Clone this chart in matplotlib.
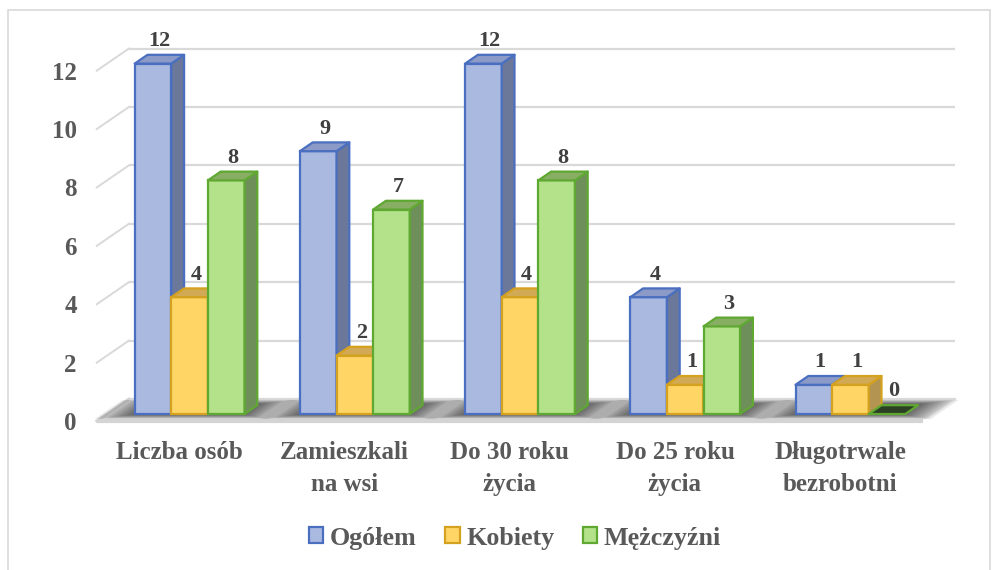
import matplotlib
matplotlib.use("Agg")
import matplotlib.pyplot as plt
from matplotlib.patches import Polygon, Rectangle, Patch

# ---------------- data ----------------
categories = ["Liczba osób", "Zamieszkali\nna wsi", "Do 30 roku\nżycia", "Do 25 roku\nżycia", "Długotrwale\nbezrobotni"]
series_names = ["Ogółem", "Kobiety", "Mężczyźni"]
ogolem = [12, 9, 12, 4, 1]
kobiety = [4, 2, 4, 1, 1]
mezczyzni = [8, 7, 8, 3, 0]
y_ticks = [0, 2, 4, 6, 8, 10, 12]

series_values = [ogolem, kobiety, mezczyzni]

# ---------------- styles ----------------
front_cols = ["#a9b9e0", "#ffd666", "#b3e28b"]
top_cols = ["#8b9ac6", "#d2aa55", "#87ae62"]
side_cols = ["#6b7899", "#b39450", "#6f8f5a"]
edge_cols = ["#4a6fc0", "#d5a21f", "#5fa832"]
zero_top_cols = ["#2a3550", "#4a3a18", "#2d3f24"]

W_PX, H_PX = 998, 570
PX_CAT = 165.2      # pixels per category
PX_VAL = 29.2       # pixels per value unit
X0_PX = 107.0       # pixel x of category -0.5 (bar plane)
Y0_PX = 414.0       # pixel y of value 0 (bar plane)

DX = 32.0 / PX_CAT  # full depth offset (x, data units)
DY = 22.0 / PX_VAL  # full depth offset (y, data units)
F_FRONT = -0.32
F_BACK = 0.68
F_BAR = 0.40

def px_to_x(px):
    return -0.5 + (px - X0_PX) / PX_CAT

def py_to_y(py):
    return (Y0_PX - py) / PX_VAL

fig = plt.figure(figsize=(W_PX / 100, H_PX / 100), dpi=100)
ax = fig.add_axes([0, 0, 1, 1])
ax.set_xlim(px_to_x(0), px_to_x(W_PX))
ax.set_ylim(py_to_y(H_PX), py_to_y(0))
ax.axis("off")

# outer border
fig.patches.append(Rectangle((8 / W_PX, -0.01), (990 - 8) / W_PX, 1 - 10 / H_PX + 0.01,
                             transform=fig.transFigure, fill=False,
                             edgecolor="#d9d9d9", linewidth=1.2, zorder=0))

n = len(categories)
fx, fy = F_FRONT * DX, F_FRONT * DY
bx, by = F_BACK * DX, F_BACK * DY
grid_col = "#d9d9d9"
serif = "Liberation Serif"

# back wall gridlines + side diagonals
for v in y_ticks:
    if v > 0:
        ax.plot([-0.5 + bx, n - 0.5 + bx], [v + by, v + by], color=grid_col, lw=1.6, zorder=1,
                solid_capstyle="butt")
    ax.plot([-0.5 + fx, -0.5 + bx], [v + fy, v + by], color=grid_col, lw=1.4, zorder=1)

# floor
floor = Polygon([(-0.5 + fx, fy), (n - 0.5 + fx, fy), (n - 0.5 + bx, by), (-0.5 + bx, by)],
                closed=True, facecolor="#f3f3f3", edgecolor="none", zorder=1)
ax.add_patch(floor)
ax.plot([-0.5 + bx, n - 0.5 + bx], [by, by], color=grid_col, lw=1.6, zorder=1.1)
ax.plot([-0.5 + fx, n - 0.5 + fx], [fy, fy], color="#d4d4d4", lw=3.0, zorder=1.1,
        solid_capstyle="butt")
ax.plot([-0.5 + fx, -0.5 + bx], [fy, by], color="#d4d4d4", lw=2.0, zorder=1.1)

w = (36.6 / PX_CAT)
# shadows on floor
for i in range(n):
    gl = i - 1.5 * w
    gr = i + 1.5 * w
    for k in range(10):
        e = 0.02 + k * 0.02
        d0 = -0.05 - k * 0.02
        d1 = F_BAR + 0.08 + k * 0.02
        d0 = max(d0, F_FRONT + 0.04)
        d1 = min(d1, F_BACK - 0.04)
        pts = [(gl - e + d0 * DX, d0 * DY), (gr + e + d0 * DX, d0 * DY),
               (gr + e + d1 * DX, d1 * DY), (gl - e + d1 * DX, d1 * DY)]
        ax.add_patch(Polygon(pts, closed=True, facecolor="black", edgecolor="none",
                             alpha=0.075, zorder=1.5))

# bars
bdx, bdy = F_BAR * DX, F_BAR * DY
for i in range(n):
    for j, vals in enumerate(series_values):
        v = vals[i]
        xc = i + (j - 1) * w
        left, right = xc - w / 2, xc + w / 2
        z = 2 + i * 0.1 + j * 0.02
        if v > 0:
            ax.bar(xc, v, width=w, bottom=0, color=front_cols[j], edgecolor=edge_cols[j],
                   linewidth=1.6, zorder=z)
            side = Polygon([(right, 0), (right + bdx, bdy), (right + bdx, v + bdy), (right, v)],
                           closed=True, facecolor=side_cols[j], edgecolor=edge_cols[j],
                           linewidth=1.6, joinstyle="round", zorder=z)
            ax.add_patch(side)
            topc = top_cols[j]
        else:
            topc = zero_top_cols[j]
        top = Polygon([(left, v), (right, v), (right + bdx, v + bdy), (left + bdx, v + bdy)],
                      closed=True, facecolor=topc, edgecolor=edge_cols[j], linewidth=1.6,
                      joinstyle="round", zorder=z + 0.005)
        ax.add_patch(top)
        ax.text(xc + bdx / 2, v + bdy + 0.3, f"{v}", ha="center", va="baseline",
                fontsize=16, fontweight="bold", family=serif, color="#404040",
                zorder=5)

# y tick labels
for v in y_ticks:
    ax.text(px_to_x(77), v + fy - 2.5 / PX_VAL, f"{v}", ha="right", va="center", fontsize=18,
            fontweight="bold", family=serif, color="#595959")

# category labels
for i, c in enumerate(categories):
    ax.text(i + fx, py_to_y(441), c, ha="center", va="top", fontsize=18, fontweight="bold",
            family=serif, color="#595959", linespacing=1.5)

# legend
handles = [Patch(facecolor=front_cols[j], edgecolor=edge_cols[j], linewidth=1.6,
                 label=series_names[j]) for j in range(3)]
leg = fig.legend(handles=handles, loc="center", bbox_to_anchor=(515 / W_PX, 1 - 538 / H_PX),
                 ncol=3, frameon=False, handlelength=0.55, handleheight=0.55,
                 handletextpad=0.25, columnspacing=1.1,
                 prop={"family": serif, "weight": "bold", "size": 18.7})
for t in leg.get_texts():
    t.set_color("#595959")

fig.savefig("out.png", dpi=100)
